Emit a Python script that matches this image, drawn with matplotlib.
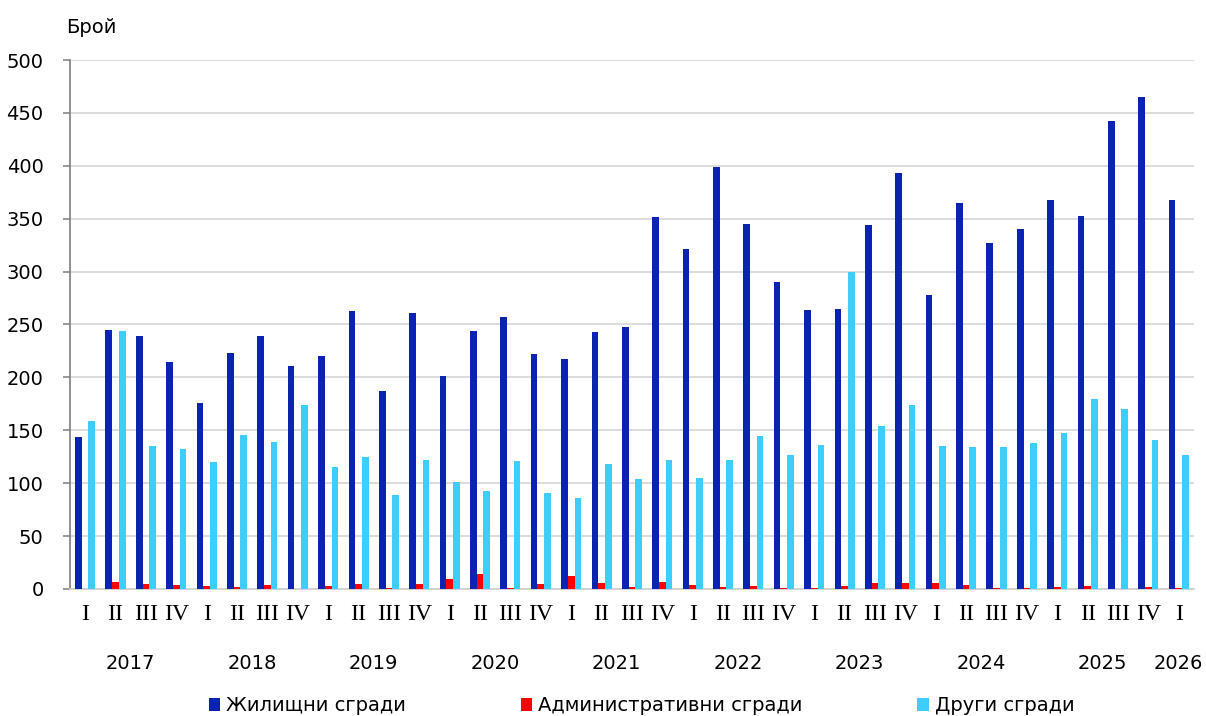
import numpy as np
import matplotlib.pyplot as plt
from matplotlib.transforms import blended_transform_factory

years = ['2017', '2018', '2019', '2020', '2021', '2022', '2023', '2024', '2025', '2026']
quarters = ['I', 'II', 'III', 'IV'] * 9 + ['I']

housing = [144, 245, 239, 215, 176, 223, 239, 211, 220, 263, 187, 261, 201, 244, 257, 222,
           217, 243, 248, 352, 321, 399, 345, 290, 264, 265, 344, 393, 278, 365, 327, 340,
           368, 353, 442, 465, 368]
admin = [0, 7, 5, 4, 3, 2, 4, 0, 3, 5, 1, 5, 9, 14, 1, 5,
         12, 6, 2, 7, 4, 2, 3, 1, 1, 3, 6, 6, 6, 4, 1, 1,
         2, 3, 0, 2, 1]
other = [159, 244, 135, 132, 120, 146, 139, 174, 115, 125, 89, 122, 101, 93, 121, 91,
         86, 118, 104, 122, 105, 122, 145, 127, 136, 300, 154, 174, 135, 134, 134, 138,
         147, 180, 170, 141, 127]

c_blue = '#0a23b0'
c_red = '#ff0000'
c_cyan = '#3dcdff'

fig = plt.figure(figsize=(12.06, 7.16), dpi=100)
ax = fig.add_axes([0.058, 0.1774, 0.932, 0.7388])

x = np.arange(len(housing))
w = 0.22
b1 = ax.bar(x - w, housing, w, color=c_blue, label='Жилищни сгради', zorder=3)
b2 = ax.bar(x, admin, w, color=c_red, label='Административни сгради', zorder=3)
b3 = ax.bar(x + w, other, w, color=c_cyan, label='Други сгради', zorder=3)

ax.set_xlim(-0.5, len(housing) - 0.5)
ax.set_ylim(0, 500)
ax.set_yticks(range(0, 501, 50))
ax.tick_params(axis='y', labelsize=14, color='#888888', length=5, width=1.2, pad=14)
ax.set_xticks([])
ax.grid(axis='y', color='#d9d9d9', linewidth=1.3, zorder=0)
for s in ['top', 'right']:
    ax.spines[s].set_visible(False)
ax.spines['left'].set_color('#888888')
ax.spines['left'].set_linewidth(1.3)
ax.spines['bottom'].set_color('#d0d0d0')
ax.spines['bottom'].set_linewidth(1.3)

tr = blended_transform_factory(ax.transData, ax.transAxes)
for i, q in enumerate(quarters):
    ax.text(i, -0.048, q, transform=tr, ha='center', va='center',
            fontsize=17, family='Liberation Serif')
for k, yr in enumerate(years):
    pos = 4 * k + 1.5 if k < 9 else 36
    ax.text(pos, -0.14, yr, transform=tr, ha='center', va='center', fontsize=14)

ax.text(-0.003, 1.062, 'Брой', transform=ax.transAxes, ha='left', va='center', fontsize=14)

fig.legend(handles=[b1, b2, b3], loc='center', bbox_to_anchor=(0.532, 0.014), ncol=3,
           frameon=False, fontsize=14, handlelength=0.6, handleheight=0.6,
           handletextpad=0.3, columnspacing=5.9)

fig.savefig('out.png', dpi=100)
